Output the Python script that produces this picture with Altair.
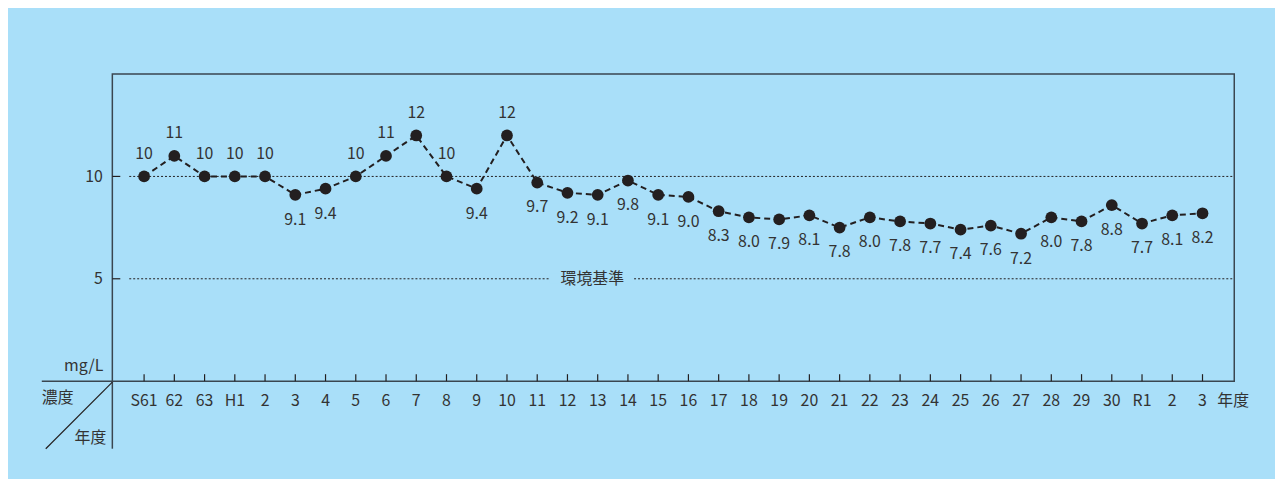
import altair as alt
import pandas as pd

# ---- data ----
years = ['S61', '62', '63', 'H1'] + [str(k) for k in range(2, 31)] + ['R1', '2', '3']
values = [10, 11, 10, 10, 10, 9.1, 9.4, 10, 11, 12, 10, 9.4, 12, 9.7, 9.2, 9.1, 9.8, 9.1, 9.0,
          8.3, 8.0, 7.9, 8.1, 7.5, 8.0, 7.8, 7.7, 7.4, 7.6, 7.2, 8.0, 7.8, 8.6, 7.7, 8.1, 8.2]
labels = ['10', '11', '10', '10', '10', '9.1', '9.4', '10', '11', '12', '10', '9.4', '12', '9.7',
          '9.2', '9.1', '9.8', '9.1', '9.0', '8.3', '8.0', '7.9', '8.1', '7.8', '8.0', '7.8', '7.7',
          '7.4', '7.6', '7.2', '8.0', '7.8', '8.8', '7.7', '8.1', '8.2']
above = [0, 1, 2, 3, 4, 7, 8, 9, 10, 12]
y_ticks = [5, 10]
standard = 5
standard_label = '環境基準'

FONT = 'Noto Sans CJK JP'
FS = 16
INK = '#231f20'
TXT = '#333333'
BG = '#a9dff9'

W, H = 1129, 309

df = pd.DataFrame({
    'i': list(range(len(years))),
    'v': values,
    'lab': labels,
    'yr': years,
    'pos': ['above' if k in above else 'below' for k in range(len(years))],
})
ticks_df = pd.DataFrame({'y': y_ticks})
dummy = pd.DataFrame({'a': [0]})

xscale = alt.Scale(domain=[-1.05, len(years) - 1 + 1.05], nice=False, zero=False)
yscale = alt.Scale(domain=[0, 15], nice=False)

xenc = alt.X('i:Q', scale=xscale,
             axis=alt.Axis(labels=False, title=None, grid=False, domain=False, ticks=False))
yenc = alt.Y('v:Q', scale=yscale,
             axis=alt.Axis(values=y_ticks, title=None, grid=False, domain=False, ticks=False,
                           tickSize=0, labelPadding=10, labelFont=FONT, labelFontSize=FS,
                           labelColor=TXT))

base = alt.Chart(df)

line = base.mark_line(strokeDash=[6, 4], strokeWidth=2, color=INK).encode(x=xenc, y=yenc)
pts = base.mark_circle(size=140, opacity=1, color=INK).encode(x='i:Q', y='v:Q')

txt_above = base.transform_filter(alt.datum.pos == 'above').mark_text(
    dy=-23, font=FONT, fontSize=FS, color=TXT).encode(x='i:Q', y='v:Q', text='lab:N')
txt_below = base.transform_filter(alt.datum.pos == 'below').mark_text(
    dy=25, font=FONT, fontSize=FS, color=TXT).encode(x='i:Q', y='v:Q', text='lab:N')

# x category labels
xlab = base.mark_text(font=FONT, fontSize=FS, color=TXT, baseline='middle').encode(
    x='i:Q', y=alt.value(H + 20), text='yr:N')

# dotted reference lines
grid = alt.Chart(ticks_df).mark_rule(strokeDash=[2, 2], strokeWidth=1, color=INK).encode(
    y=alt.Y('y:Q', scale=yscale), x=alt.value(17), x2=alt.value(W))
# inward y ticks
yt = alt.Chart(ticks_df).mark_rule(strokeWidth=1.2, color=INK).encode(
    y=alt.Y('y:Q', scale=yscale), x=alt.value(0), x2=alt.value(8))
# inward x ticks
xt = base.mark_rule(strokeWidth=1.2, color=INK).encode(
    x='i:Q', y=alt.value(H), y2=alt.value(H - 7))

# mask + standard label
std_df = pd.DataFrame({'y': [standard], 't': [standard_label]})
mask = alt.Chart(std_df).mark_rule(strokeWidth=10, color=BG).encode(
    y=alt.Y('y:Q', scale=yscale), x=alt.value(440), x2=alt.value(525))
std_txt = alt.Chart(std_df).mark_text(font=FONT, fontSize=FS, color=TXT).encode(
    y=alt.Y('y:Q', scale=yscale), x=alt.value(483), text='t:N')

# table-style corner decorations
LINE = '#3a4650'
vext = alt.Chart(dummy).mark_rule(strokeWidth=1.5, color=LINE).encode(
    x=alt.value(0), y=alt.value(H), y2=alt.value(377))
hext = alt.Chart(dummy).mark_rule(strokeWidth=1.5, color=LINE).encode(
    x=alt.value(-71), x2=alt.value(0), y=alt.value(H))
diag = alt.Chart(dummy).mark_rule(strokeWidth=1.2, color=INK).encode(
    x=alt.value(-67), y=alt.value(377), x2=alt.value(0), y2=alt.value(H + 1))

def label(t, x, y, align):
    return alt.Chart(dummy).mark_text(font=FONT, fontSize=FS, color=TXT, align=align,
                                      baseline='middle').encode(
        x=alt.value(x), y=alt.value(y), text=alt.value(t))

unit = label('mg/L', -9, 294, 'right')
conc = label('濃度', -71, 326, 'left')
nendo = label('年度', -6, 366, 'right')
nendo2 = label('年度', 1112, 329, 'left')

chart = alt.layer(
    line, grid, mask, std_txt, yt, xt, pts, txt_above, txt_below, xlab,
    vext, hext, diag, unit, conc, nendo, nendo2
).properties(
    width=W, height=H,
    autosize=alt.AutoSizeParams(type='none'),
    padding={'left': 105, 'top': 65, 'right': 41, 'bottom': 97},
    background=BG,
).configure_view(stroke=LINE, strokeWidth=1.5)

chart.save('out.html', embed_options={'renderer': 'svg', 'actions': False})
